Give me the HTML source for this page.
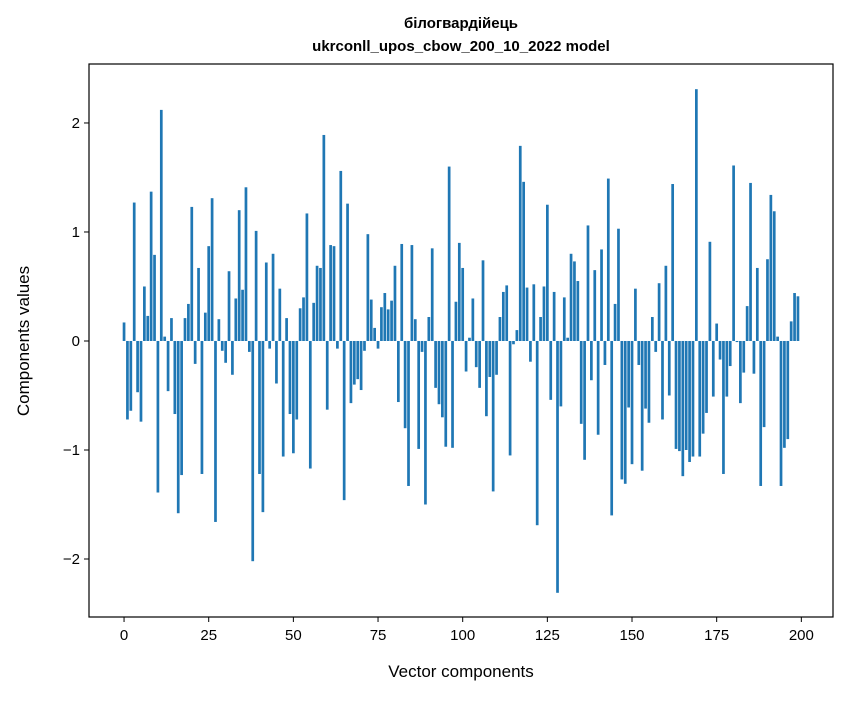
<!DOCTYPE html>
<html><head><meta charset="utf-8"><style>
body{margin:0;background:#fff;}
svg text{font-family:"Liberation Sans","DejaVu Sans",sans-serif;}
</style></head><body>
<svg id="chart" width="847" height="696" xmlns="http://www.w3.org/2000/svg">
<rect width="847" height="696" fill="#fff"/>
<text x="461" y="28" text-anchor="middle" font-size="15" font-weight="bold">білогвардійець</text>
<text x="461" y="51" text-anchor="middle" font-size="15" font-weight="bold">ukrconll_upos_cbow_200_10_2022 model</text>
<g id="bars"></g>
<rect x="89" y="64" width="744" height="553" fill="none" stroke="#000" stroke-width="1.2"/>
<g id="xticks"></g>
<g id="yticks"></g>
<text x="461" y="677" text-anchor="middle" font-size="17">Vector components</text>
<text x="29" y="341" text-anchor="middle" font-size="17" transform="rotate(-90 29 341)">Components values</text>
</svg>
<script>
const values = [0.17,-0.72,-0.64,1.27,-0.47,-0.74,0.50,0.23,1.37,0.79,
-1.39,2.12,0.04,-0.46,0.21,-0.67,-1.58,-1.23,0.21,0.34,
1.23,-0.21,0.67,-1.22,0.26,0.87,1.31,-1.66,0.20,-0.09,
-0.20,0.64,-0.31,0.39,1.20,0.47,1.41,-0.10,-2.02,1.01,
-1.22,-1.57,0.72,-0.07,0.80,-0.39,0.48,-1.06,0.21,-0.67,
-1.03,-0.72,0.30,0.40,1.17,-1.17,0.35,0.69,0.67,1.89,
-0.63,0.88,0.87,-0.07,1.56,-1.46,1.26,-0.57,-0.40,-0.35,
-0.45,-0.09,0.98,0.38,0.12,-0.07,0.31,0.44,0.29,0.37,
0.69,-0.56,0.89,-0.80,-1.33,0.88,0.20,-0.99,-0.10,-1.50,
0.22,0.85,-0.43,-0.58,-0.70,-0.97,1.60,-0.98,0.36,0.90,
0.67,-0.28,0.03,0.39,-0.24,-0.43,0.74,-0.69,-0.33,-1.38,
-0.31,0.22,0.45,0.51,-1.05,-0.03,0.10,1.79,1.46,0.49,
-0.19,0.52,-1.69,0.22,0.50,1.25,-0.54,0.45,-2.31,-0.60,
0.40,0.03,0.80,0.73,0.55,-0.76,-1.09,1.06,-0.36,0.65,
-0.86,0.84,-0.22,1.49,-1.60,0.34,1.03,-1.27,-1.31,-0.61,
-1.13,0.48,-0.22,-1.19,-0.62,-0.75,0.22,-0.10,0.53,-0.72,
0.69,-0.50,1.44,-0.99,-1.01,-1.24,-1.00,-1.11,-1.06,2.31,
-1.06,-0.85,-0.66,0.91,-0.51,0.16,-0.17,-1.22,-0.51,-0.23,
1.61,-0.01,-0.57,-0.29,0.32,1.45,-0.30,0.67,-1.33,-0.79,
0.75,1.34,1.19,0.04,-1.33,-0.98,-0.90,0.18,0.44,0.41];
const xTicks = [0,25,50,75,100,125,150,175,200];
const yTicks = [-2,-1,0,1,2];
const yTickLabels = ["\u22122","\u22121","0","1","2"];

const NS="http://www.w3.org/2000/svg";
const L=89,R=833,T=64,B=617;
const xMin=-10.35,xMax=209.35,yMin=-2.532,yMax=2.541;
const xs=v=>L+(v-xMin)/(xMax-xMin)*(R-L);
const ys=v=>B-(v-yMin)/(yMax-yMin)*(B-T);
const bw=xs(0.8)-xs(0);
const gb=document.getElementById('bars');
values.forEach((v,i)=>{
  const r=document.createElementNS(NS,'rect');
  const y0=ys(Math.max(v,0)),y1=ys(Math.min(v,0));
  r.setAttribute('x',xs(i)-bw/2);r.setAttribute('y',y0);
  r.setAttribute('width',bw);r.setAttribute('height',Math.max(y1-y0,0.01));
  r.setAttribute('fill','#1f77b4');
  
  
  gb.appendChild(r);
});
const gx=document.getElementById('xticks');
xTicks.forEach(t=>{
  const l=document.createElementNS(NS,'line');
  l.setAttribute('x1',xs(t));l.setAttribute('x2',xs(t));l.setAttribute('y1',B);l.setAttribute('y2',B+5);l.setAttribute('stroke','#000');
  
  
  gx.appendChild(l);
  const tx=document.createElementNS(NS,'text');
  tx.setAttribute('x',xs(t));tx.setAttribute('y',B+23);tx.setAttribute('text-anchor','middle');tx.setAttribute('font-size','15');
  tx.textContent=t;
  
  
  gx.appendChild(tx);
});
const gy=document.getElementById('yticks');
yTicks.forEach((t,i)=>{
  const l=document.createElementNS(NS,'line');
  l.setAttribute('x1',L-5);l.setAttribute('x2',L);l.setAttribute('y1',ys(t));l.setAttribute('y2',ys(t));l.setAttribute('stroke','#000');
  
  
  gy.appendChild(l);
  const tx=document.createElementNS(NS,'text');
  tx.setAttribute('x',L-9);tx.setAttribute('y',ys(t)+5);tx.setAttribute('text-anchor','end');tx.setAttribute('font-size','15');
  tx.textContent=yTickLabels[i];
  
  
  gy.appendChild(tx);
});
</script>
</body></html>
